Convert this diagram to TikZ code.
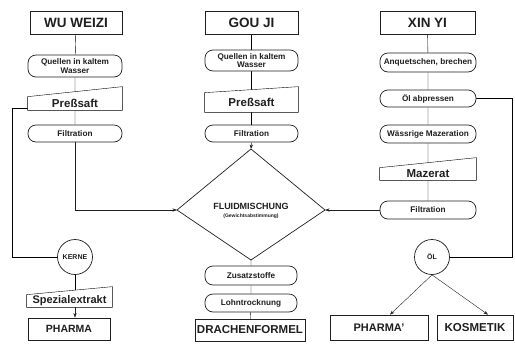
\documentclass[tikz,border=0pt]{standalone}
\usepackage{fontspec}
\setmainfont{Liberation Sans}
\usetikzlibrary{arrows.meta,calc}
\pgfdeclarelayer{bg}\pgfdeclarelayer{mid}
\pgfsetlayers{bg,mid,main}
\begin{document}
\begin{tikzpicture}[x=1pt,y=-1pt, line width=0.7pt, color=black!88,
  titlebox/.style={draw, fill=white, inner sep=0, minimum height=23pt, font=\bfseries\fontsize{13.5}{14}\selectfont},
  endbox/.style={draw, fill=white, inner sep=0, font=\bfseries\fontsize{10.5}{12}\selectfont},
  proc/.style={draw, fill=white, rounded corners=8pt, inner sep=0, align=center, font=\bfseries\fontsize{8.2}{8.6}\selectfont},
  tz/.style={inner sep=0, font=\bfseries\fontsize{11.5}{12}\selectfont},
  rnd/.style={draw, fill=white, circle, inner sep=0, minimum size=35pt, font=\bfseries\fontsize{7}{7}\selectfont},
  arr/.style={-{Stealth[length=4.5pt,width=3.2pt]}}]
\useasboundingbox (0,0) rectangle (515,349);

% ---------- column 1
\node[titlebox, minimum width=92pt] (t1) at (76,22.5) {WU WEIZI};
\node[proc, minimum width=94pt, minimum height=22pt] (q1) at (75,66) {Quellen in kaltem\\Wasser};
\node[tz, minimum width=94pt, minimum height=13pt] (p1) at (75,103.5) {Preßsaft};
\node[proc, minimum width=94pt, minimum height=17pt] (f1) at (75,133.5) {Filtration};
\node[rnd] (kerne) at (75,257) {KERNE};
\node[tz, font=\bfseries\fontsize{11}{12}\selectfont, minimum width=85pt, minimum height=12pt] (spez) at (69.5,301) {Spezialextrakt};
\node[endbox, minimum width=82pt, minimum height=22pt] (ph1) at (69,329) {PHARMA};

% ---------- column 2
\node[titlebox, minimum width=93pt] (t2) at (251.5,22.5) {GOU JI};
\node[proc, minimum width=93pt, minimum height=21pt] (q2) at (251.5,60.5) {Quellen in kaltem\\Wasser};
\node[tz, minimum width=93pt, minimum height=19pt] (p2) at (251.5,102.5) {Preßsaft};
\node[proc, minimum width=93pt, minimum height=17pt] (f2) at (251.5,133.5) {Filtration};

% diamond
\coordinate (dn) at (251,149);
\coordinate (de) at (325,210);
\coordinate (ds) at (251,260);
\coordinate (dw) at (177,210);
\draw[fill=white] (dn) -- (de) -- (ds) -- (dw) -- cycle;
\node[font=\bfseries\fontsize{9}{9.5}\selectfont, align=center, inner sep=0] (fl) at (251,211)
  {FLUIDMISCHUNG\\[-1.5pt]{\fontsize{5}{5.5}\selectfont(Gewichtsabstimmung)}};

\node[proc, minimum width=92pt, minimum height=19pt] (zus) at (251,275.5) {Zusatzstoffe};
\node[proc, minimum width=92pt, minimum height=18pt] (lohn) at (251,303) {Lohntrocknung};
\node[endbox, font=\bfseries\fontsize{11.5}{12}\selectfont, minimum width=110pt, minimum height=22pt] (dra) at (250,330) {DRACHENFORMEL};

% ---------- column 3
\node[titlebox, minimum width=95pt] (t3) at (427.5,22.5) {XIN YI};
\node[proc, minimum width=96pt, minimum height=19pt] (a3) at (428,62.5) {Anquetschen, brechen};
\node[proc, minimum width=96pt, minimum height=17pt] (o3) at (428,98.5) {Öl abpressen};
\node[proc, minimum width=96pt, minimum height=18pt] (w3) at (428,134) {Wässrige Mazeration};
\node[tz, minimum width=96pt, minimum height=12pt] (m3) at (428,174) {Mazerat};
\node[proc, minimum width=96pt, minimum height=18pt] (f3) at (428,210) {Filtration};
\node[rnd] (oel) at (432,257) {ÖL};
\node[endbox, font=\bfseries\fontsize{11}{12}\selectfont, minimum width=98pt, minimum height=25pt] (ph2) at (379,327.5) {PHARMA'};
\node[endbox, font=\bfseries\fontsize{11.5}{12}\selectfont, minimum width=76pt, minimum height=25pt] (kos) at (475,327.5) {KOSMETIK};

% ---------- trapezoid outlines
\begin{pgfonlayer}{mid}
\draw[fill=white] (p1.south west) -- (p1.south east) -- ([yshift=10pt]p1.north east) -- (p1.north west) -- cycle;
\draw[fill=white] (p2.south west) -- (p2.south east) -- ([yshift=6pt]p2.north east) -- (p2.north west) -- cycle;
\draw[fill=white] (m3.south west) -- (m3.south east) -- ([yshift=10pt]m3.north east) -- (m3.north west) -- cycle;
\draw[fill=white] (spez.south west) -- (spez.south east) -- ([yshift=8pt]spez.north east) -- (spez.north west) -- cycle;
\end{pgfonlayer}

% ---------- connectors
\coordinate (k1) at (12,257);
\coordinate (k3) at (512,257);
\begin{pgfonlayer}{bg}
\draw (t1) -- (q1) -- (p1) -- (f1);
\draw ([yshift=2pt]p1.south west) -| (k1) -- (kerne.west);
\draw (kerne) -- (kerne |- spez.south);
\draw (t2) -- (q2) -- (p2) -- (f2);
\draw (ds) -- (zus) -- (lohn) -- (dra);
\draw (t3) -- (a3) -- (o3) -- (w3) -- (m3) -- (f3);
\draw (o3.east) -| (k3) -- (oel.east);
\end{pgfonlayer}
\draw[arr] (f1.south) |- (dw);
\draw[arr] (f2.south) -- (dn);
\draw[arr] (f3.west) -- (de);
\draw[arr] (kerne |- spez.south) -- (kerne |- ph1.north);
\draw[arr] (oel.south) -- ([xshift=11pt]ph2.north);
\draw[arr] (oel.south) -- ([xshift=13pt]kos.north);
\end{tikzpicture}
\end{document}
